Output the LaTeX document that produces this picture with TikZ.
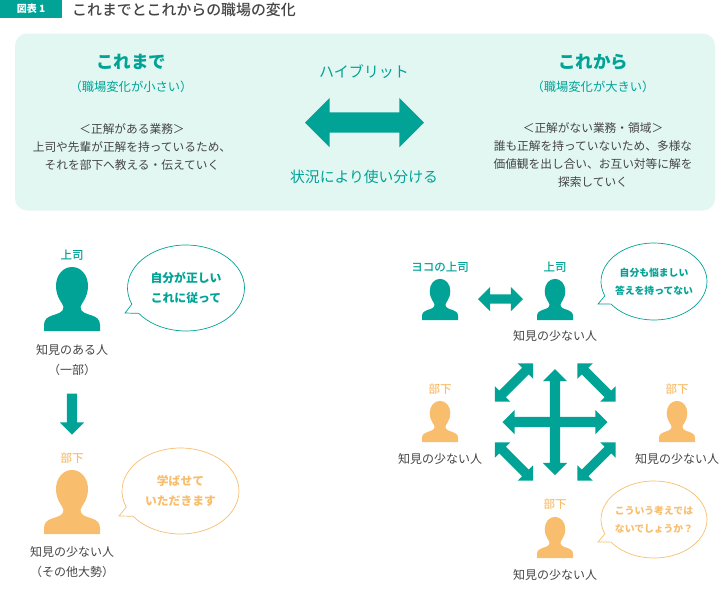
\documentclass[tikz,border=0pt]{standalone}
\usepackage{fontspec}
\setmainfont{Noto Sans CJK JP}
\newfontfamily\medfont{Noto Sans CJK JP Medium}
\usepackage{tikz}
\usetikzlibrary{shapes, shapes.arrows, shapes.callouts, positioning, calc}
\definecolor{mainteal}{HTML}{00A396}
\definecolor{suborange}{HTML}{F8BE6E}
\definecolor{panelbg}{HTML}{E2F7F2}
\definecolor{bodygray}{HTML}{444444}
\newcommand{\fsz}[2]{\fontsize{#1}{#2}\selectfont}

\begin{document}
\begin{tikzpicture}[x=1pt, y=-1pt, inner sep=0pt,
                body/.style={text=bodygray, align=center, font=\fsz{11.7}{18}},
                role/.style={font=\fsz{11.5}{14}\medfont},
                bubble/.style={ellipse callout, draw, line width=0.7pt, fill=white, align=center, inner sep=-6pt, callout pointer arc=14},
                darrow/.style={double arrow, fill=mainteal, double arrow tip angle=90, double arrow head indent=0pt},
                person/.pic={\fill[pic actions] (-28,0) -- (-28,-6) .. controls (-28,-12) and (-24,-14) .. (-20,-15.5)
                    .. controls (-14,-17.5) and (-8.5,-18.5) .. (-8.5,-24) .. controls (-8.5,-27) and (-16,-33) .. (-16,-45)
                    .. controls (-16,-56) and (-9,-64) .. (0,-64) .. controls (9,-64) and (16,-56) .. (16,-45)
                    .. controls (16,-33) and (8.5,-27) .. (8.5,-24) .. controls (8.5,-18.5) and (14,-17.5) .. (20,-15.5)
                    .. controls (24,-14) and (28,-12) .. (28,-6) -- (28,0) -- cycle;}]
                \useasboundingbox (0,0) rectangle (728,590);
                \node[fill=mainteal, text=white, minimum width=62pt, minimum height=18pt, font=\fsz{10}{12}\bfseries] (tag) at (31,9) {図表 1};
                \node[text=bodygray, font=\fsz{14.9}{18}\medfont, anchor=west] (title) at (72,9.5) {これまでとこれからの職場の変化};
                \node[fill=panelbg, rounded corners=12pt, minimum width=700pt, minimum height=177pt] (panel) at (365,122) {};

                \node[text=mainteal, font=\fsz{17.5}{20}\bfseries] (past) at (131,62) {これまで};
                \node[text=mainteal, font=\fsz{12.3}{16}] (pastsub) at (131,87) {（職場変化が小さい）};
                \node[body] (pasttext) at (132,147) {＜正解がある業務＞\\上司や先輩が正解を持っているため、\\それを部下へ教える・伝えていく};
                \node[text=mainteal, font=\fsz{17.5}{20}\bfseries] (future) at (593,62) {これから};
                \node[text=mainteal, font=\fsz{12.3}{16}] (futuresub) at (593,87) {（職場変化が大きい）};
                \node[body] (futuretext) at (593,155) {＜正解がない業務・領域＞\\誰も正解を持っていないため、多様な\\価値観を出し合い、お互い対等に解を\\探索していく};
                \node[text=mainteal, font=\fsz{15}{18}] (hybrid) at (364,72) {ハイブリット};
                \node[text=mainteal, font=\fsz{14.8}{18}] (usage) at (364,177) {状況により使い分ける};
                \node[darrow, inner ysep=10pt, minimum width=49pt, minimum height=119pt, double arrow head extend=14.5pt] (bigarrow) at (364.5,122.5) {};

                \node[role, text=mainteal] (bossrole) at (72,255) {上司};
                \pic[fill=mainteal] (boss) at (72,331) {person};
                \node[body, font=\fsz{12}{20}] (bosstext) at (72,360) {知見のある人\\（一部）};
                \node[bubble, draw=mainteal, text=mainteal, font=\fsz{11.8}{20}\bfseries, minimum width=117pt, minimum height=86pt, callout absolute pointer={(125,313)}] (bosssay) at (186,288) {自分が正しい\\これに従って};
                \node[single arrow, fill=mainteal, rotate=-90, inner ysep=5pt, minimum width=24pt, minimum height=41pt, single arrow head extend=7pt, single arrow tip angle=90, single arrow head indent=0pt] (downarrow) at (72,411.5) {};
                \node[role, text=suborange] (staffrole) at (72,458) {部下};
                \pic[fill=suborange] (staff) at (72,534) {person};
                \node[body, font=\fsz{12}{20}] (stafftext) at (72,562) {知見の少ない人\\（その他大勢）};
                \node[bubble, draw=suborange, text=suborange, font=\fsz{11.8}{20}\bfseries, minimum width=117pt, minimum height=86pt, callout absolute pointer={(119,516)}] (staffsay) at (180.5,491) {学ばせて\\いただきます};

                \node[role, text=mainteal] (peerrole) at (440,267) {ヨコの上司};
                \pic[fill=mainteal, scale=0.643] (peer) at (440,320) {person};
                \node[role, text=mainteal] (mgrrole) at (555,267) {上司};
                \pic[fill=mainteal, scale=0.643] (mgr) at (555,320) {person};
                \node[darrow, inner ysep=4.5pt, minimum width=24pt, minimum height=45pt, double arrow head extend=7.5pt] (peerarrow) at (500.5,299) {};
                \node[body, font=\fsz{12}{16}] (mgrtext) at (555,336) {知見の少ない人};
                \node[bubble, draw=mainteal, text=mainteal, font=\fsz{9.8}{18}\bfseries, minimum width=106pt, minimum height=77pt, callout absolute pointer={(598,304)}] (mgrsay) at (654,281.5) {自分も悩ましい\\答えを持ってない};

                \node[role, text=suborange] (leftrole) at (440,389) {部下};
                \pic[fill=suborange, scale=0.643] (left) at (440,442) {person};
                \node[body, font=\fsz{12}{16}] (lefttext) at (440,459) {知見の少ない人};
                \node[role, text=suborange] (rightrole) at (677,389) {部下};
                \pic[fill=suborange, scale=0.643] (right) at (677,442) {person};
                \node[body, font=\fsz{12}{16}] (righttext) at (677,459) {知見の少ない人};
                \node[role, text=suborange] (lowrole) at (555,504) {部下};
                \pic[fill=suborange, scale=0.643] (low) at (555,558) {person};
                \node[body, font=\fsz{12}{16}] (lowtext) at (555,575) {知見の少ない人};
                \node[bubble, draw=suborange, text=suborange, font=\fsz{9.8}{18}\bfseries, minimum width=106pt, minimum height=77pt, callout absolute pointer={(598,542)}] (lowsay) at (654,519.5) {こういう考えでは\\ないでしょうか？};

                \foreach \name/\px/\py/\ang in {tl/514/382.5/45, tr/596.5/382.5/-45, bl/514/461.5/-45, br/596.5/461.5/45}
                    \node[darrow, inner ysep=4.5pt, rotate=\ang, minimum width=21.5pt, minimum height=54pt, double arrow head extend=6.2pt] (\name) at (\px,\py) {};
                \node[darrow, inner ysep=5pt, minimum width=24pt, minimum height=105pt, double arrow head extend=7pt] (crossh) at (555,422) {};
                \node[darrow, inner ysep=5pt, rotate=90, minimum width=24pt, minimum height=106pt, double arrow head extend=7pt] (crossv) at (555,422) {};
            \end{tikzpicture}
\end{document}
